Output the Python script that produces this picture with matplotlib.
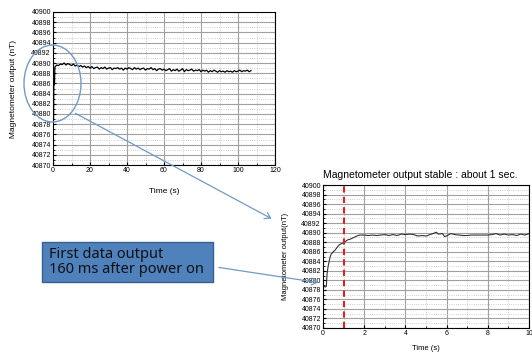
import numpy as np
from matplotlib import pyplot as plt
from matplotlib.patches import Ellipse, FancyArrowPatch, Rectangle
from matplotlib.ticker import MultipleLocator

# long run (0 - 107 s)
top_t = [0.2, 0.3, 0.4, 0.8, 1.0] + list(range(2, 108))
top_y = [40879.0, 40879.0, 40885.5, 40885.8, 40889.2,
         40889.6, 40889.5, 40889.8, 40889.7, 40890.0, 40889.6, 40889.9, 40889.7, 40889.5, 40889.8,
         40889.4, 40889.6, 40889.3, 40889.5, 40889.2, 40889.4, 40889.1, 40889.3, 40889.0, 40889.3,
         40888.9, 40889.1, 40889.2, 40888.8, 40889.1, 40888.9, 40889.2, 40888.8, 40889.0, 40889.1,
         40888.7, 40889.0, 40888.9, 40889.1, 40888.8, 40889.0, 40888.6, 40889.0, 40888.8, 40889.1,
         40888.9, 40888.7, 40889.1, 40888.8, 40889.0, 40888.7, 40888.9, 40889.0, 40888.6, 40888.9,
         40888.8, 40889.1, 40888.7, 40888.9, 40888.5, 40888.8, 40888.9, 40888.6, 40888.8, 40888.5,
         40888.7, 40888.9, 40888.4, 40888.7, 40888.5, 40888.8, 40888.4, 40888.6, 40888.9, 40888.3,
         40888.7, 40888.5, 40888.6, 40888.8, 40888.4, 40888.6, 40888.5, 40888.7, 40888.3, 40888.6,
         40888.4, 40888.6, 40888.2, 40888.5, 40888.3, 40888.6, 40888.4, 40888.2, 40888.5, 40888.3,
         40888.4, 40888.2, 40888.5, 40888.3, 40888.4, 40888.2, 40888.5, 40888.3, 40888.4, 40888.6,
         40888.3, 40888.5, 40888.4, 40888.6, 40888.3, 40888.5]

# first 10 s
zoom_t = [0, 0.1, 0.16, 0.2, 0.25, 0.3, 0.35, 0.4, 0.5, 0.6, 0.7, 0.8, 0.9, 1.0,
          1.1, 1.2, 1.3, 1.4, 1.5, 1.6, 1.7, 1.8, 1.9, 2.0, 2.2, 2.4, 2.6, 2.8, 3.0,
          3.2, 3.4, 3.6, 3.8, 4.0, 4.2, 4.4, 4.6, 4.8, 5.0, 5.2, 5.4, 5.5, 5.6, 5.8,
          5.9, 6.0, 6.2, 6.4, 6.6, 6.8, 7.0, 7.2, 7.4, 7.6, 7.8, 8.0, 8.2, 8.4, 8.6,
          8.8, 9.0, 9.2, 9.4, 9.6, 9.8, 10.0]
zoom_y = [40878.9, 40878.6, 40878.7, 40881.5, 40883.0, 40884.0, 40885.0, 40885.5,
          40886.0, 40886.4, 40887.0, 40887.5, 40887.7, 40887.9, 40888.2, 40888.5,
          40888.6, 40888.8, 40889.0, 40889.2, 40889.4, 40889.5, 40889.5, 40889.5,
          40889.4, 40889.5, 40889.4, 40889.5, 40889.6, 40889.4, 40889.6, 40889.4,
          40889.7, 40889.6, 40889.7, 40889.6, 40889.3, 40889.4, 40889.3, 40889.6,
          40889.9, 40890.1, 40889.7, 40889.8, 40889.2, 40889.3, 40889.8, 40889.6,
          40889.5, 40889.4, 40889.4, 40889.5, 40889.5, 40889.5, 40889.5, 40889.5,
          40889.6, 40889.8, 40889.5, 40889.7, 40889.5, 40889.6, 40889.4, 40889.7,
          40889.5, 40889.8]

W, H = 532, 354
fig = plt.figure(figsize=(W / 100, H / 100), dpi=100)
plt.rcParams['font.family'] = ['Liberation Sans', 'DejaVu Sans']


def px_axes(x0, y0, x1, y1):
    return fig.add_axes([x0 / W, 1 - y1 / H, (x1 - x0) / W, (y1 - y0) / H])


def style(ax, xmaj, xmin):
    ax.set_ylim(40870, 40900)
    ax.yaxis.set_major_locator(MultipleLocator(2))
    ax.yaxis.set_minor_locator(MultipleLocator(1))
    ax.xaxis.set_major_locator(MultipleLocator(xmaj))
    ax.xaxis.set_minor_locator(MultipleLocator(xmin))
    ax.grid(which='major', color='#a0a0a0', lw=0.8, ls='-')
    ax.grid(which='minor', color='#c0c0c0', lw=0.6, ls=':')
    ax.tick_params(which='both', direction='in', labelsize=5, length=2.5, pad=1.5)
    ax.tick_params(which='minor', length=1.5)
    for s in ax.spines.values():
        s.set_linewidth(0.8)


ax1 = px_axes(53, 12, 275, 165)
ax1.plot(top_t, top_y, color='black', lw=0.9)
ax1.set_xlim(0, 120)
style(ax1, 20, 10)
ax1.set_xlabel('Time (s)', fontsize=6, labelpad=10)
ax1.set_ylabel('Magnetometer output (nT)', fontsize=6, labelpad=10)

ax2 = px_axes(323, 185, 529, 328)
ax2.plot(zoom_t, zoom_y, color='#333333', lw=0.8)
ax2.axvline(1, color='#e02020', lw=1.5, ls=(0, (3, 2)))
ax2.set_xlim(0, 10)
style(ax2, 2, 1)
ax2.set_xlabel('Time (s)', fontsize=5.5, labelpad=6)
ax2.set_ylabel('Magnetometer output(nT)', fontsize=5.5, labelpad=9)
ax2.set_title('Magnetometer output stable : about 1 sec.', fontsize=7.5, pad=5, x=0.47)

# annotations in pixel coordinates
ov = fig.add_axes([0, 0, 1, 1], zorder=5)
ov.set_xlim(0, W)
ov.set_ylim(H, 0)
ov.axis('off')
ov.patch.set_alpha(0)
blue = '#7399c6'
ov.add_patch(Ellipse((52.5, 83.5), 57, 77, fill=False, ec=blue, lw=1.0))
ov.add_patch(FancyArrowPatch((73, 112), (274, 220), arrowstyle='->,head_length=4,head_width=2.5',
                             color=blue, lw=0.9))
ov.add_patch(FancyArrowPatch((216, 267), (321, 283), arrowstyle='->,head_length=4,head_width=2.5',
                             color=blue, lw=0.9))
ov.add_patch(Rectangle((42, 242), 171, 40, fc='#4f81bd', ec='#3a5f8b', lw=1.0))
ov.text(49, 262, 'First data output\n160 ms after power on', fontsize=10.5,
        family=['Noto Sans', 'DejaVu Sans'], va='center', ha='left', color='#111111',
        linespacing=1.0)

fig.savefig('out.png', dpi=100)
